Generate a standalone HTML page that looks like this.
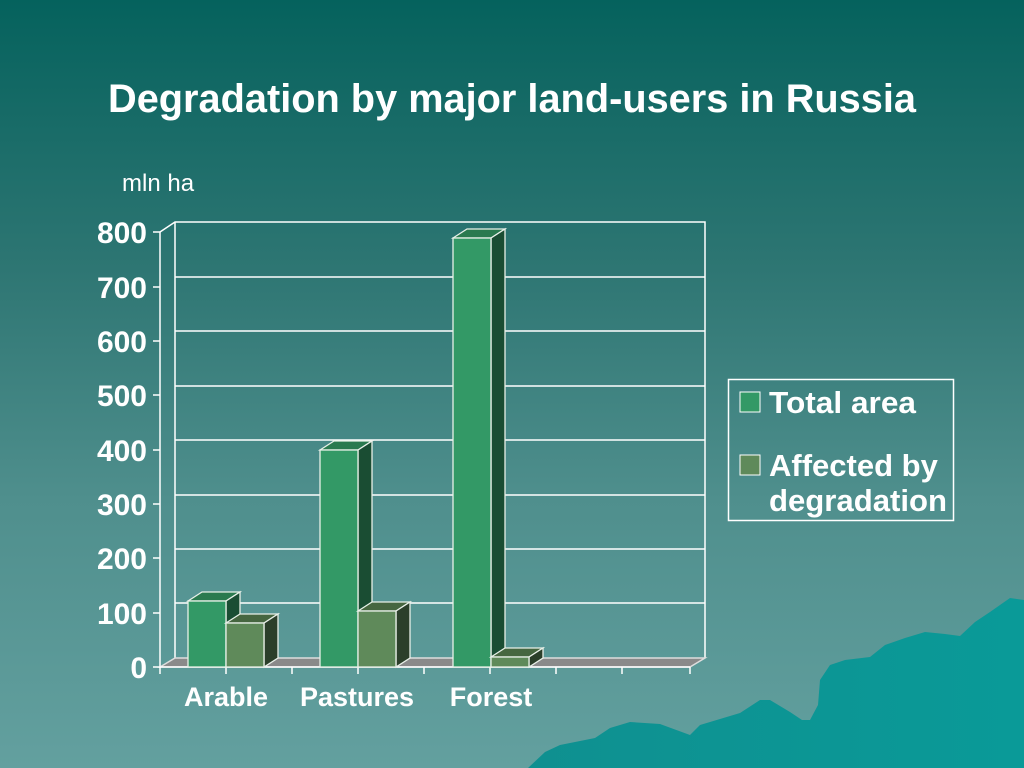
<!DOCTYPE html>
<html><head><meta charset="utf-8"><style>
html,body{margin:0;padding:0}
body{width:1024px;height:768px;overflow:hidden;background:linear-gradient(180deg,#05625d 0%,#2e7673 35%,#4f8f8d 65%,#63a09f 100%);font-family:"Liberation Sans",sans-serif}
</style></head><body>
<svg width="1024" height="768" xmlns="http://www.w3.org/2000/svg" style="position:absolute;left:0;top:0">
<defs><linearGradient id="m" x1="0" y1="0" x2="1" y2="0"><stop offset="0" stop-color="#0f9090"/><stop offset="1" stop-color="#0a9a98"/></linearGradient></defs>
<polygon fill="url(#m)" points="528,768 545,752 560,745 595,738 610,728 630,722 660,724 690,735 700,725 740,713 760,700 770,700 790,712 802,720 810,720 818,705 820,680 830,665 845,660 870,657 885,645 905,638 925,632 945,634 960,636 975,622 990,612 1010,598 1024,600 1024,768"/>
<text x="512" y="112" fill="#fff" font-size="39.5" font-weight="bold" text-anchor="middle" textLength="808" lengthAdjust="spacingAndGlyphs">Degradation by major land-users in Russia</text>
<text x="122" y="191" fill="#fff" font-size="24">mln ha</text>
<g stroke="#fff" stroke-width="1.5" fill="none">
<polyline points="160,232 175,222 705,222 705,658"/>
<line x1="175" y1="222" x2="175" y2="658"/>
<line x1="175" y1="277" x2="705" y2="277"/><line x1="175" y1="331" x2="705" y2="331"/>
<line x1="175" y1="386" x2="705" y2="386"/><line x1="175" y1="440" x2="705" y2="440"/>
<line x1="175" y1="495" x2="705" y2="495"/><line x1="175" y1="549" x2="705" y2="549"/>
<line x1="175" y1="603" x2="705" y2="603"/>
<line x1="160" y1="232" x2="160" y2="668"/>
</g>
<polygon points="160,667 175,658 705,658 690,667" fill="#8a8a8a" stroke="#ddd" stroke-width="1.5"/>
<g stroke="#fff" stroke-width="1.5">
<line x1="153" y1="232" x2="160" y2="232"/><line x1="153" y1="287" x2="160" y2="287"/><line x1="153" y1="341" x2="160" y2="341"/><line x1="153" y1="395" x2="160" y2="395"/><line x1="153" y1="450" x2="160" y2="450"/><line x1="153" y1="504" x2="160" y2="504"/><line x1="153" y1="558" x2="160" y2="558"/><line x1="153" y1="613" x2="160" y2="613"/><line x1="153" y1="667" x2="160" y2="667"/>
<line x1="160" y1="667" x2="690" y2="667"/>
<line x1="160" y1="667" x2="160" y2="674"/><line x1="226" y1="667" x2="226" y2="674"/><line x1="292" y1="667" x2="292" y2="674"/><line x1="358" y1="667" x2="358" y2="674"/><line x1="424" y1="667" x2="424" y2="674"/><line x1="490" y1="667" x2="490" y2="674"/><line x1="556" y1="667" x2="556" y2="674"/><line x1="622" y1="667" x2="622" y2="674"/><line x1="690" y1="667" x2="690" y2="674"/>
</g>
<g fill="#fff" font-size="30" font-weight="bold" text-anchor="end">
<text x="147" y="243">800</text><text x="147" y="298">700</text><text x="147" y="352">600</text><text x="147" y="406">500</text><text x="147" y="461">400</text><text x="147" y="515">300</text><text x="147" y="569">200</text><text x="147" y="624">100</text><text x="147" y="678">0</text>
</g>
<g fill="#fff" font-size="27" font-weight="bold" text-anchor="middle">
<text x="226" y="706">Arable</text><text x="357" y="706">Pastures</text><text x="491" y="706">Forest</text>
</g>
<g stroke="#e8f0e8" stroke-width="1.3">
<polygon points="188,601 202,592 240,592 226,601" fill="#2a7a4f"/><polygon points="226,601 240,592 240,658 226,667" fill="#1a4d33"/><rect x="188" y="601" width="38" height="66" fill="#339966"/>
<polygon points="226,623 240,614 278,614 264,623" fill="#466640"/><polygon points="264,623 278,614 278,658 264,667" fill="#2b3f2a"/><rect x="226" y="623" width="38" height="44" fill="#5f8a5a"/>
<polygon points="320,450 334,441 372,441 358,450" fill="#2a7a4f"/><polygon points="358,450 372,441 372,658 358,667" fill="#1a4d33"/><rect x="320" y="450" width="38" height="217" fill="#339966"/>
<polygon points="358,611 372,602 410,602 396,611" fill="#466640"/><polygon points="396,611 410,602 410,658 396,667" fill="#2b3f2a"/><rect x="358" y="611" width="38" height="56" fill="#5f8a5a"/>
<polygon points="453,238 467,229 505,229 491,238" fill="#2a7a4f"/><polygon points="491,238 505,229 505,658 491,667" fill="#1a4d33"/><rect x="453" y="238" width="38" height="429" fill="#339966"/>
<polygon points="491,657 505,648 543,648 529,657" fill="#466640"/><polygon points="529,657 543,648 543,658 529,667" fill="#2b3f2a"/><rect x="491" y="657" width="38" height="10" fill="#5f8a5a"/>
</g>
<rect x="728.5" y="379.5" width="225" height="141" fill="none" stroke="#fff" stroke-width="1.5"/>
<rect x="740" y="392" width="20" height="20" fill="#339966" stroke="#fff" stroke-width="1"/>
<rect x="740" y="455" width="20" height="20" fill="#5f8a5a" stroke="#fff" stroke-width="1"/>
<g fill="#fff" font-size="31" font-weight="bold">
<text x="769" y="413" textLength="147" lengthAdjust="spacingAndGlyphs">Total area</text><text x="769" y="476">Affected by</text><text x="769" y="511" textLength="178" lengthAdjust="spacingAndGlyphs">degradation</text>
</g>
</svg>
</body></html>
